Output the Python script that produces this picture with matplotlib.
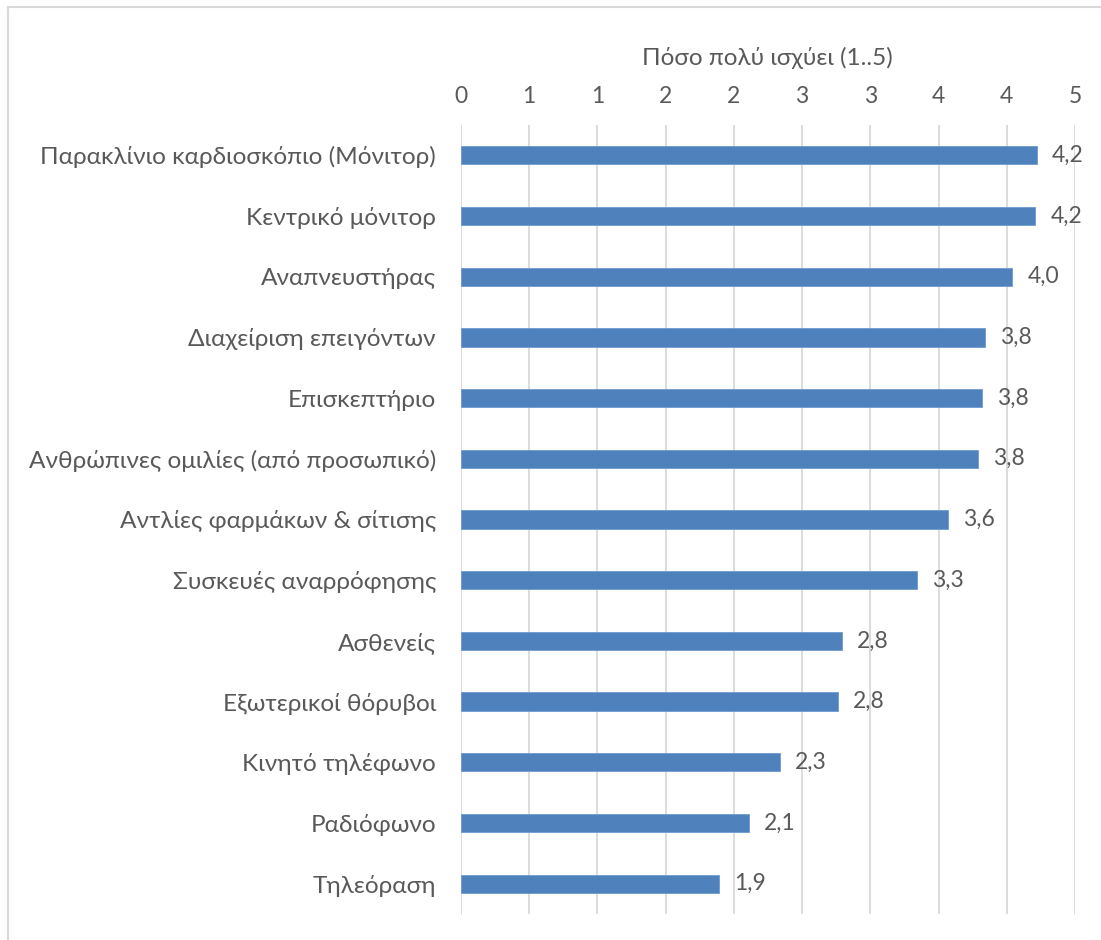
import matplotlib
matplotlib.use("Agg")
import matplotlib.pyplot as plt
from matplotlib.lines import Line2D

# δεδομένα (από πάνω προς τα κάτω)
categories = [
    "Παρακλίνιο καρδιοσκόπιο (Μόνιτορ)",
    "Κεντρικό μόνιτορ",
    "Αναπνευστήρας",
    "Διαχείριση επειγόντων",
    "Επισκεπτήριο",
    "Ανθρώπινες ομιλίες (από προσωπικό)",
    "Αντλίες φαρμάκων & σίτισης",
    "Συσκευές αναρρόφησης",
    "Ασθενείς",
    "Εξωτερικοί θόρυβοι",
    "Κινητό τηλέφωνο",
    "Ραδιόφωνο",
    "Τηλεόραση",
]
values = [4.22, 4.21, 4.04, 3.84, 3.82, 3.79, 3.57, 3.34, 2.79, 2.76, 2.34, 2.11, 1.89]
tick_values = [0, 0.5, 1, 1.5, 2, 2.5, 3, 3.5, 4, 4.5]
tick_labels = ["0", "1", "1", "2", "2", "3", "3", "4", "4", "5"]
title = "Πόσο πολύ ισχύει (1..5)"

W, H = 1101, 940
plt.rcParams['font.family'] = ['Lato', 'DejaVu Sans']
txt = "#595959"

fig = plt.figure(figsize=(W / 100, H / 100), dpi=100)
ax = fig.add_axes([461 / W, 1 - 914 / H, (1075 - 461) / W, (914 - 125) / H])

y = list(range(len(categories)))
ax.barh(y, values, height=0.30, color="#4F81BD", edgecolor="#6E9AD0", linewidth=0.6, zorder=3)

for yi, v in zip(y, values):
    ax.text(v + 0.11, yi, f"{v:.1f}".replace(".", ","), va="center", ha="left",
            fontsize=16.5, color=txt)

ax.set_ylim(len(categories) - 0.5, -0.5)
ax.set_xlim(0, 4.5)
ax.set_yticks(y)
ax.set_yticklabels(categories, fontsize=17.6, color=txt)
ax.xaxis.tick_top()
ax.set_xticks(tick_values)
ax.set_xticklabels(tick_labels, fontsize=16.5, color=txt)
ax.tick_params(axis="both", length=0)
ax.tick_params(axis="x", pad=13)
ax.tick_params(axis="y", pad=18)
ax.grid(axis="x", color="#D9D9D9", linewidth=1.3, zorder=0)
for s in ax.spines.values():
    s.set_visible(False)

fig.text(767 / W, 1 - 58 / H, title, ha="center", va="center", fontsize=17.5, color=txt)

# cadre gris
fig.add_artist(Line2D([7.5 / W, 7.5 / W], [0, 1 - 6.5 / H], color="#D9D9D9", linewidth=1.5))
fig.add_artist(Line2D([7.5 / W, 1], [1 - 6.5 / H, 1 - 6.5 / H], color="#D9D9D9", linewidth=1.5))

fig.savefig("out.png", dpi=100)
